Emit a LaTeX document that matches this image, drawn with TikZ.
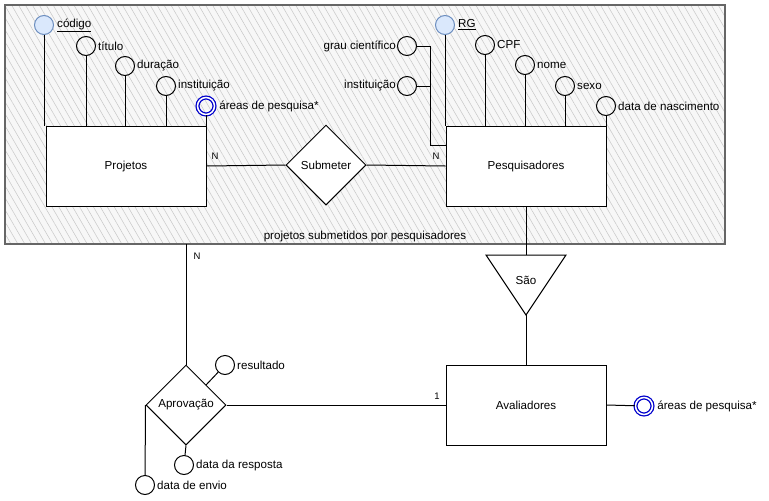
\documentclass[tikz,border=0pt]{standalone}
\usepackage{fontspec}
\setmainfont{Liberation Sans}
\usepackage{xcolor}
\usepackage{tikz}
\usetikzlibrary{calc}
\usetikzlibrary{positioning}
\usetikzlibrary{shapes.geometric}
\usetikzlibrary{patterns.meta}
\definecolor{chavefill}{HTML}{DAE8FC}
\definecolor{chavedraw}{HTML}{6C8EBF}
\definecolor{multi}{HTML}{0000CC}
\tikzset{
	linha/.style={line width=1pt},
	entidade/.style={
		draw, fill=white, line width=1pt,
		minimum width=160pt, minimum height=80pt, inner sep=0pt,
	},
	relacao/.style={
		draw, diamond, fill=white, line width=1pt,
		minimum width=80pt, minimum height=80pt, inner sep=0pt,
	},
	atributo/.style={draw, circle, line width=1pt, minimum size=19pt, inner sep=0pt},
	chave/.style={atributo, draw=chavedraw, fill=chavefill},
	multivalorado/.style={atributo, draw=multi, double=white, double distance=1.5pt, line width=1.3pt, minimum size=17pt},
	agregacao/.style={
		draw=black!60, line width=1.3pt,
		pattern={Lines[angle=-60, distance=6pt, line width=0.5pt]}, pattern color=black!22,
		preaction={fill=black!3},
	},
	rotulo/.style={inner sep=1pt, font=\fontsize{11.6}{13}\selectfont},
	card/.style={inner sep=0pt, font=\fontsize{9.5}{11}\selectfont},
}

\begin{document}
\begin{tikzpicture}[x=1pt, y=-1pt]
	\path[use as bounding box, fill=white] (0,0) rectangle (769,501);

	% Agregacao
	\node[agregacao, minimum width=720pt, minimum height=239pt] (agreg) at (365,124.5) {};
	\node[rotulo, above=1pt of agreg.south] (titulo) {projetos submetidos por pesquisadores};

	% Entidades
	\node[entidade] (proj) at (126,166) {};
	\node[rotulo] at (proj.center) {Projetos};
	\node[entidade] (pesq) at (526,166) {};
	\node[rotulo] at (pesq.center) {Pesquisadores};
	\node[entidade] (aval) at (526,405) {};
	\node[rotulo] at (aval.center) {Avaliadores};

	% Relacoes
	\node[relacao, rotulo] (sub) at (326,165) {Submeter};
	\node[relacao, rotulo] (aprov) at (186,405) {Aprovação};
	\coordinate (saoE) at (486,255);
	\coordinate (saoD) at (566,255);
	\coordinate (saoBase) at (526,315);
	\draw[linha, fill=white] (saoE) -- (saoD) -- (saoBase) -- cycle;
	\node[rotulo] (sao) at (526,280) {São};

	% Atributos de Projetos
	\node[chave] (cod) at (44,25) {};
	\node[atributo] (tit) at (86,46) {};
	\node[atributo] (dur) at (125,66) {};
	\node[atributo] (inst) at (166,86) {};
	\node[multivalorado] (area) at (206,106) {};
	\node[rotulo, right=2pt of cod] {\underline{código}};
	\node[rotulo, right=1pt of tit] {título};
	\node[rotulo, right=1pt of dur] {duração};
	\node[rotulo, right=1pt of inst] {instituição};
	\node[rotulo, right=3pt of area] {áreas de pesquisa*};
	\draw[linha] (cod) -- (cod |- proj.north);
	\draw[linha] (tit) -- (tit |- proj.north);
	\draw[linha] (dur) -- (dur |- proj.north);
	\draw[linha] (inst) -- (inst |- proj.north);
	\draw[linha] (area) -- (area |- proj.north);

	% Atributos de Pesquisadores
	\node[chave] (rg) at (445,25) {};
	\node[atributo] (cpf) at (485,45) {};
	\node[atributo] (nome) at (525,65) {};
	\node[atributo] (sexo) at (565,86) {};
	\node[atributo] (nasc) at (606,106) {};
	\node[atributo] (grau) at (407,46) {};
	\node[atributo] (inst2) at (407,86) {};
	\node[rotulo, right=2pt of rg] {\underline{RG}};
	\node[rotulo, right=1pt of cpf] {CPF};
	\node[rotulo, right=1pt of nome] {nome};
	\node[rotulo, right=1pt of sexo] {sexo};
	\node[rotulo, right=1pt of nasc] {data de nascimento};
	\node[rotulo, left=0pt of grau] {grau científico};
	\node[rotulo, left=0pt of inst2] {instituição};
	\draw[linha] (rg) -- (rg |- pesq.north);
	\draw[linha] (cpf) -- (cpf |- pesq.north);
	\draw[linha] (nome) -- (nome |- pesq.north);
	\draw[linha] (sexo) -- (sexo |- pesq.north);
	\draw[linha] (nasc) -- (nasc |- pesq.north);
	\coordinate (dobra) at (430,145);
	\draw[linha] (grau.east) -| (dobra) -- (dobra -| pesq.west);
	\draw[linha] (inst2.east) -- (inst2.east -| dobra);

	% Submeter
	\draw[linha] (proj.east) -- (sub.west);
	\draw[linha] (sub.east) -- (pesq.west);
	\node[card] (n1) at (215,156) {N};
	\node[card] (n2) at (436,156) {N};

	% Especializacao
	\draw[linha] (pesq.south) -- ($(saoE)!0.5!(saoD)$);
	\draw[linha] (saoBase) -- (aval.north);
	\node[multivalorado] (area2) at (644,406) {};
	\node[rotulo, right=3pt of area2] {áreas de pesquisa*};
	\draw[linha] (aval.east) -- (area2);

	% Aprovacao
	\draw[linha] (aprov.north) -- (aprov.north |- agreg.south);
	\draw[linha] (aprov.east) -- (aval.west);
	\node[card] (n3) at (197,256) {N};
	\node[card] (um) at (437,396) {1};
	\node[atributo] (res) at (225,365) {};
	\node[atributo] (resp) at (184,465) {};
	\node[atributo] (envio) at (145,485) {};
	\node[rotulo, right=1pt of res] {resultado};
	\node[rotulo, right=1pt of resp] {data da resposta};
	\node[rotulo, right=1pt of envio] {data de envio};
	\draw[linha] (aprov.north east) -- (res);
	\draw[linha] (aprov.south) -- (resp);
	\draw[linha] (aprov.west) -- (envio);
\end{tikzpicture}
\end{document}
